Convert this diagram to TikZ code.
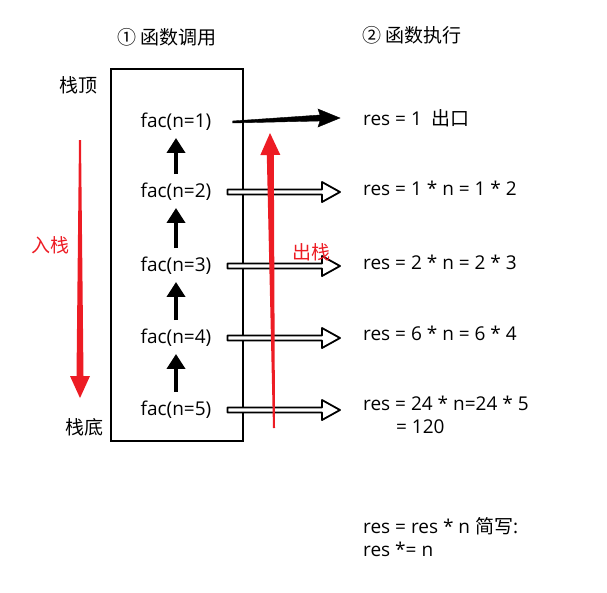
\documentclass[tikz,border=0pt]{standalone}
\usepackage{fontspec}
\setmainfont{Open Sans}
\newfontfamily\cjk{Noto Sans CJK SC}
\usetikzlibrary{arrows.meta, positioning, calc}
\definecolor{stackred}{RGB}{237,28,36}

\begin{document}
\begin{tikzpicture}[
    x=1pt, y=-1pt,
    every node/.style={font=\fontsize{19}{23}\selectfont, inner sep=1pt},
    call/.style={anchor=center},
    result/.style={anchor=west, align=left},
    uparr/.style={line width=4pt, -{Triangle[length=15pt, width=18pt]}, shorten <=8pt, shorten >=6pt},
    redarr/.style={fill=stackred, to path={let \p1=(\tikztostart), \p2=(\tikztotarget),
        \p3=($(\p2)!22pt!(\p1)$) in
        ($(\p1)!1pt!90:(\p2)$) -- ($(\p3)!3.5pt!90:(\p2)$) -- ($(\p3)!10pt!90:(\p2)$) -- (\p2) --
        ($(\p3)!10pt!-90:(\p2)$) -- ($(\p3)!3.5pt!-90:(\p2)$) -- ($(\p1)!1pt!-90:(\p2)$) -- cycle}},
    fullarr/.style={to path={let \p1=(\tikztostart), \p2=(\tikztotarget) in
        (\x1+20pt,\y1+1pt) -- (\x2-42pt,\y2+3pt) -- (\x2-44pt,\y2+9pt) -- (\x2-22pt,\y2) --
        (\x2-44pt,\y2-9pt) -- (\x2-42pt,\y2-3pt) -- (\x1+20pt,\y1-1pt) -- cycle}, fill=black},
    openarr/.style={to path={let \p1=(\tikztostart), \p2=(\tikztotarget) in
        (\x1+15pt,\y1+2.5pt) -- (\x2-40pt,\y2+2.5pt) -- (\x2-40pt,\y2+10pt) -- (\x2-22pt,\y2) --
        (\x2-40pt,\y2-10pt) -- (\x2-40pt,\y2-2.5pt) -- (\x1+15pt,\y1-2.5pt) -- cycle},
        draw=black, line width=1.8pt, fill=white, line join=round},
]
\useasboundingbox (0,0) rectangle (607,592);

% headings
\node (callhead) at (167,37) {\cjk ① 函数调用};
\node (runhead) at (412,35) {\cjk ② 函数执行};

% stack frame
\node[draw, line width=1.4pt, minimum width=132pt, minimum height=372pt] (stack) at (177,255) {};
\node (top) at (78,85) {\cjk 栈顶};
\node (bottom) at (84,427) {\cjk 栈底};

% calls
\node[call] (fac1) at (176,122) {fac(n=1)};
\node[call] (fac2) at (176,192) {fac(n=2)};
\node[call] (fac3) at (176,266) {fac(n=3)};
\node[call] (fac4) at (176,338) {fac(n=4)};
\node[call] (fac5) at (176,410) {fac(n=5)};

% results
\node[result] (res1) at (362,118) {res = 1 \ {\cjk 出口}};
\node[result] (res2) at (362,188) {res = 1 * n = 1 * 2};
\node[result] (res3) at (362,262) {res = 2 * n = 2 * 3};
\node[result] (res4) at (362,333) {res = 6 * n = 6 * 4};
\node[result, anchor=north west] (res5) at (362,395) {res = 24 * n=24 * 5\\\hspace*{33pt}= 120};
\node[result, anchor=north west] (note) at (362,516) {res = res * n {\cjk 简写}:\\res *= n};

% arrows
\foreach \a/\b in {fac2/fac1, fac3/fac2, fac4/fac3, fac5/fac4}
    \draw[uparr] (\a.north) -- (\b.south);
\draw[fullarr] (fac1.east) to (res1.west);
\foreach \i in {2,...,5}
    \draw[openarr] (fac\i.east) to (fac\i.east -| res1.west);

% push / pop
\coordinate (pushtop) at (80,140);
\coordinate (pushend) at (80,398);
\path[redarr] (pushtop) to (pushend);
\node[stackred] (push) at (50,245) {\cjk 入栈};
\coordinate (poptop) at (270,133);
\coordinate (popend) at (274,428);
\path[redarr] (popend) to (poptop);
\node[stackred] (pop) at (311,252) {\cjk 出栈};

\end{tikzpicture}
\end{document}
